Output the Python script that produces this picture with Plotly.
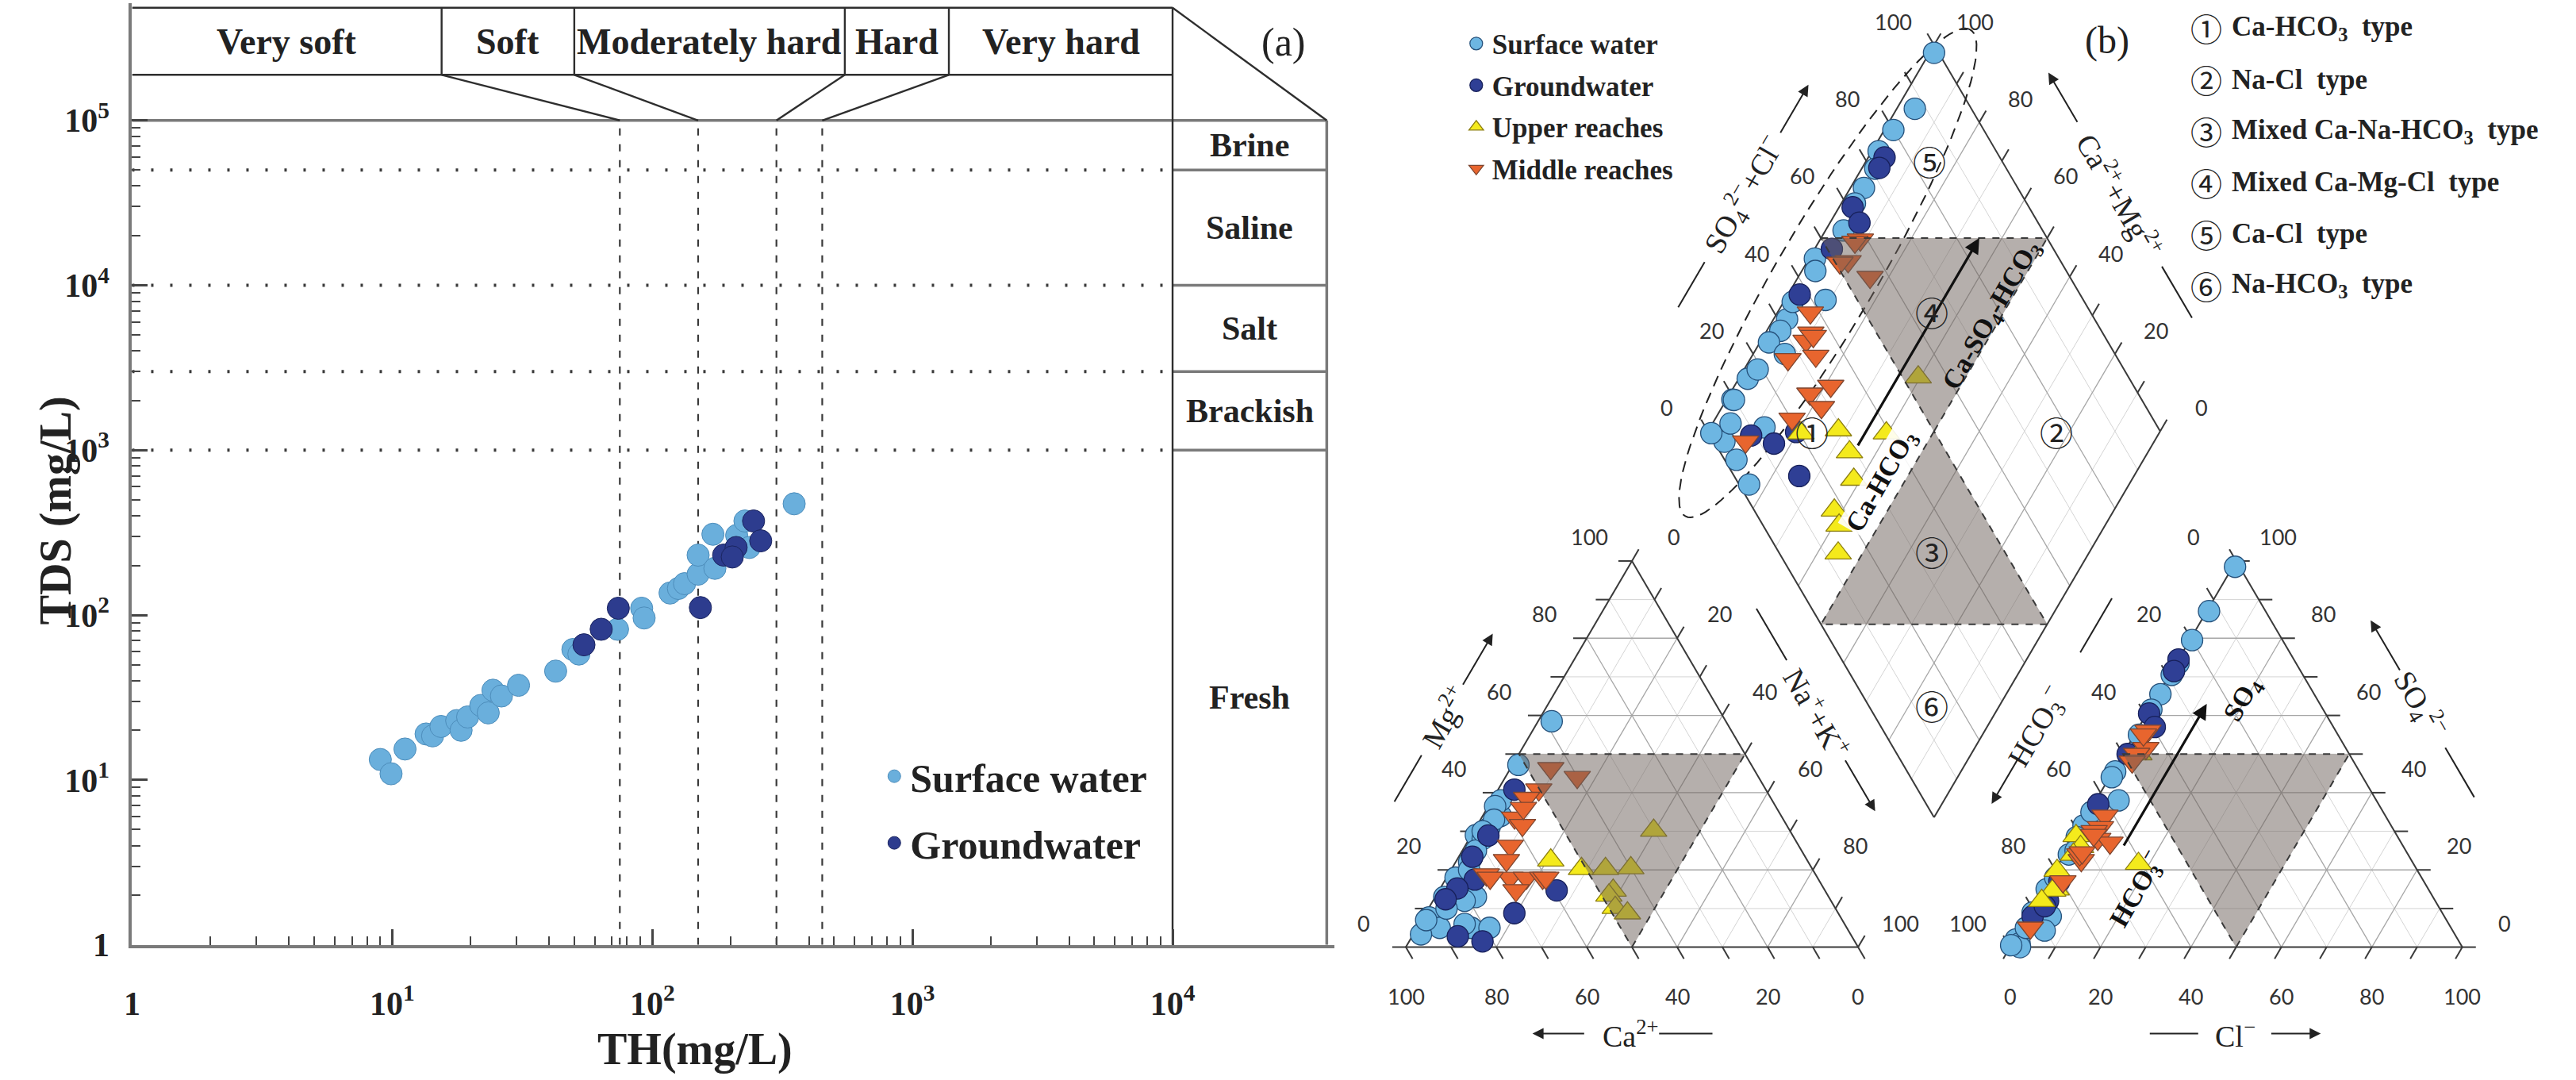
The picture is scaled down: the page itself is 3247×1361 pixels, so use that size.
import math
import plotly.graph_objects as go

W, H = 3247, 1361
SERIF = "Liberation Serif, Times New Roman, serif"
SANS = "Lato, Liberation Sans, sans-serif"
CIRC = "Noto Sans CJK SC, DejaVu Sans, sans-serif"

# ------------------------------------------------------------------ data (a)
sw_th = [9.0, 9.9, 11.2, 13.5, 14.3, 15.4, 17.7, 18.4, 19.5, 21.9, 23.4, 24.4, 26.3, 30.6,
         42.5, 49.5, 52.2, 73.5, 91, 93, 117, 126, 133, 150, 150, 171, 174, 211, 227, 236, 351]
sw_tds = [13.3, 10.9, 15.4, 19.0, 18.5, 21.1, 22.9, 20.0, 24.1, 28.3, 25.5, 35, 32.3, 37.5,
          45.7, 61.8, 58, 82, 110, 96, 136, 145, 155, 177, 231, 309, 192, 304, 372, 257, 473]
gw_th = [54.6, 63.6, 74, 153, 188, 210, 245, 261, 203]
gw_tds = [66, 82, 110, 111, 231, 257, 372, 282, 225]

hardness_bounds = [75, 150, 300, 450]
hardness_names = ["Very soft", "Soft", "Moderately hard", "Hard", "Very hard"]
tds_bounds = [1000, 3000, 10000, 50000]
tds_names = ["Fresh", "Brackish", "Salt", "Saline", "Brine"]
th_tick_vals = [1, 10, 100, 1000, 10000]
th_tick_text = ["<b>1</b>", "<b>10<sup>1</sup></b>", "<b>10<sup>2</sup></b>", "<b>10<sup>3</sup></b>",
                "<b>10<sup>4</sup></b>"]
tds_tick_vals = [1, 10, 100, 1000, 10000, 100000]
tds_tick_text = ["<b>1</b>", "<b>10<sup>1</sup></b>", "<b>10<sup>2</sup></b>", "<b>10<sup>3</sup></b>",
                 "<b>10<sup>4</sup></b>", "<b>10<sup>5</sup></b>"]

# ------------------------------------------------------------------ data (b)  (meq %)
sw_ca = [70, 62, 60, 62, 74, 66, 38.5, 51.5, 64, 78, 75, 69, 80, 81, 85, 91, 83, 90, 84, 79, 95, 92, 86, 72, 68, 76]
sw_mg = [29, 34, 38, 36.5, 23, 31, 58.5, 47.2, 33, 13, 22, 28, 18, 12, 13, 7.7, 5, 5, 6, 5, 3.3, 7, 10, 25, 30, 20]
sw_so4 = [98.5, 87, 79.5, 73.5, 70.5, 65.5, 61.5, 45.5, 44, 38, 31.5, 28.5, 24, 25, 15, 9, 8, 2, 1, 0, 4.3, 0.5, 5, 18, 35, 55]
sw_cl = [0.5, 0.5, 0.5, 0.5, 0.5, 0.5, 0.5, 0.5, 0.5, 5, 0.5, 0.5, 1, 2, 0.6, 0.5, 5, 0.3, 1.6, 2.2, 5.5, 0, 1, 1, 0.5, 1]

gw_ca = [55.6, 67.3, 73.6, 76, 81, 85, 71.6, 59.3, 87.1, 82.3]
gw_mg = [40.8, 28.9, 23.4, 17.5, 15.2, 12.4, 8.8, 14.7, 2.8, 1.5]
gw_so4 = [74.5, 71.5, 60.5, 57, 50, 37, 17, 12, 8, 10.6]
gw_cl = [0, 0.5, 0.5, 3.5, 1, 1, 2.4, 2.4, 1, 2.4]

up_ca = [30.1, 40, 51, 45.7, 46.8, 48.4, 48.6, 56.7, 46.6]
up_mg = [30.2, 20.5, 20.3, 20.3, 14.7, 13.4, 10.2, 22.5, 8.8]
up_so4 = [21.6, 50, 28.8, 26, 24, 15, 14.7, 19.8, 12]
up_cl = [17.6, 3.5, 0.2, 2.6, 2, 2.7, 2.1, 0.5, 1]

md_ca = [44.8, 40.1, 50.2, 54, 59.2, 58.4, 63.8, 66.5, 72.8, 68, 64.4, 60.8, 60.1, 68.3, 72.4, 56]
md_mg = [46.3, 44, 40.8, 38.6, 33.5, 31.6, 26.2, 22.5, 18.8, 17.9, 17.9, 17.9, 17.9, 14.7, 17.9, 36]
md_so4 = [56, 51.5, 50, 48, 34, 31, 28, 27, 22.5, 30, 24, 29, 24.5, 17, 5, 55]
md_cl = [2.5, 4.3, 3, 3, 4, 4.5, 5.4, 8.6, 4.5, 3.6, 3.4, 4, 3.7, 3.2, 2, 2]

piper_tick_vals = [0, 20, 40, 60, 80, 100]
type_marks = ["\u2460", "\u2461", "\u2462", "\u2463", "\u2464", "\u2465"]
type_labels = ["Ca-HCO<sub>3</sub>\u00a0 type", "Na-Cl\u00a0 type", "Mixed Ca-Na-HCO<sub>3</sub>\u00a0 type",
               "Mixed Ca-Mg-Cl\u00a0 type", "Ca-Cl\u00a0 type", "Na-HCO<sub>3</sub>\u00a0 type"]
# (SO4+Cl, Ca+Mg) position of each type mark inside the diamond
type_pos_ac = [(23, 77), (77, 23), (34, 35), (65, 66), (84, 86), (14, 15)]

# ------------------------------------------------------------------ helpers
def px_x(px):
    return px / W


def px_y(py):
    return 1 - py / H


def seg_trace(segs, color, width, dash="solid", xa="x", ya="y"):
    xs, ys = [], []
    for (x0, y0), (x1, y1) in segs:
        xs += [x0, x1, None]
        ys += [y0, y1, None]
    return go.Scatter(x=xs, y=ys, mode="lines", line=dict(color=color, width=width, dash=dash),
                      hoverinfo="skip", showlegend=False, xaxis=xa, yaxis=ya)


fig = go.Figure()
ann = []
shapes = []


def arrow_ann(tail, head, width, size, color):
    ann.append(dict(x=head[0], y=head[1], ax=tail[0], ay=tail[1], xref="x2", yref="y2",
                    axref="x2", ayref="y2", text="", showarrow=True, arrowhead=2, arrowsize=size,
                    arrowwidth=width, arrowcolor=color))


# ================================================================== panel (a)
A_X0, A_XDEC = 156, 329.0
A_Y0, A_YDEC = 1212, 211.5
A_RIGHT, A_TOP, A_HDR = 1667, 10, 96
lx_max = (A_RIGHT - A_X0) / A_XDEC
ly_top = (A_Y0 - A_TOP) / A_YDEC
ly_hdr = (A_Y0 - A_HDR) / A_YDEC
ly_max = 5.0
hdr_cols = [0.0, 1.19, 1.70, 2.74, 3.14, 4.0]
lx_bar = 4.0
pad = 0.03
xr_a = [0, lx_max + pad]
yr_a = [0, ly_top + pad]
x_dom_a = [A_X0 / W, (A_X0 + xr_a[1] * A_XDEC) / W]
y_dom_a = [(H - A_Y0) / H, (H - (A_Y0 - yr_a[1] * A_YDEC)) / H]


def P(lx, ly):
    return (10 ** lx, 10 ** ly)


dark = [(P(0, ly_top), P(lx_bar, ly_top)),
        (P(lx_bar, ly_top), P(lx_max, ly_max)),
        (P(0, ly_hdr), P(lx_bar, ly_hdr)),
        (P(lx_bar, ly_top), P(lx_bar, 0))]
for c in hdr_cols[1:-1]:
    dark.append((P(c, ly_top), P(c, ly_hdr)))
for c, b in zip(hdr_cols[1:-1], hardness_bounds):
    dark.append((P(c, ly_hdr), P(math.log10(b), ly_max)))
grey = [(P(0, ly_max), P(lx_max, ly_max)), (P(lx_max, ly_max), P(lx_max, 0))]
for b in tds_bounds:
    grey.append((P(lx_bar, math.log10(b)), P(lx_max, math.log10(b))))
dots = [(P(0, math.log10(b)), P(lx_bar, math.log10(b))) for b in tds_bounds]
dashes = [(P(math.log10(h), 0), P(math.log10(h), ly_max)) for h in hardness_bounds]

fig.add_trace(seg_trace(dots, "#3a3a3a", 4, "3px,21px"))
fig.add_trace(seg_trace(dashes, "#3a3a3a", 2.2, "9px,11px"))
fig.add_trace(seg_trace(grey, "#7a7a7a", 3.5))
fig.add_trace(seg_trace(dark, "#2e2e2e", 2.4))

fig.add_trace(go.Scatter(x=sw_th, y=sw_tds, mode="markers", name="<b>Surface water</b>",
                         legend="legend", legendgroup="a_sw",
                         marker=dict(size=28, color="#6AAFDC", line=dict(color="#4D8DBB", width=1)),
                         xaxis="x", yaxis="y"))
fig.add_trace(go.Scatter(x=gw_th, y=gw_tds, mode="markers", name="<b>Groundwater</b>",
                         legend="legend", legendgroup="a_gw",
                         marker=dict(size=28, color="#2D3C8E", line=dict(color="#1B2560", width=1)),
                         xaxis="x", yaxis="y"))

# header labels
for i, name in enumerate(hardness_names):
    cx = (hdr_cols[i] + hdr_cols[i + 1]) / 2
    ann.append(dict(x=cx, y=(ly_top + ly_hdr) / 2, xref="x", yref="y", text="<b>%s</b>" % name,
                    showarrow=False, font=dict(family=SERIF, size=46, color="#222")))
tds_edges = [0] + [math.log10(b) for b in tds_bounds] + [ly_max]
for i, name in enumerate(tds_names):
    cy = (tds_edges[i] + tds_edges[i + 1]) / 2
    ann.append(dict(x=(lx_bar + lx_max) / 2, y=cy, xref="x", yref="y", text="<b>%s</b>" % name,
                    showarrow=False, font=dict(family=SERIF, size=42, color="#222")))
ann.append(dict(x=(1612 - A_X0) / A_XDEC, y=(A_Y0 - 54) / A_YDEC, xref="x", yref="y", text="(a)",
                showarrow=False, font=dict(family=SERIF, size=50, color="#222")))
ann.append(dict(x=px_x(868), y=px_y(1346), xref="paper", yref="paper", text="<b>TH(mg/L)</b>",
                xanchor="center", yanchor="middle",
                showarrow=False, font=dict(family=SERIF, size=56, color="#222")))
ann.append(dict(x=px_x(60), y=px_y(655), xref="paper", yref="paper", text="<b>TDS (mg/L)</b>",
                xanchor="center", yanchor="middle",
                textangle=-90, showarrow=False, font=dict(family=SERIF, size=56, color="#222")))

# ================================================================== panel (b)
B_PX0, B_PY0, B_SC, B_LEFT = 1767, 1215, 5.72, 1680
SQ = math.sqrt(3) / 2
GAP = 33.6


def cat_xy(ca, mg):
    na = 100 - ca - mg
    return (na + mg / 2, mg * SQ)


def an_xy(so4, cl):
    return (100 + GAP + cl + so4 / 2, so4 * SQ)


DBX, DBY = 100 + GAP / 2, GAP * SQ


def dia_xy(a, c):
    return (DBX + 0.5 * (a - c), DBY + SQ * (a + c))


minor_segs, major_segs, tick_segs = [], [], []
for k in range(10, 100, 10):
    tgt = major_segs if k % 20 == 0 else minor_segs
    tgt += [(cat_xy(100 - k, k), cat_xy(0, k)), (cat_xy(100 - k, 0), cat_xy(0, 100 - k)),
            (cat_xy(k, 0), cat_xy(k, 100 - k)),
            (an_xy(k, 0), an_xy(k, 100 - k)), (an_xy(0, k), an_xy(100 - k, k)),
            (an_xy(0, 100 - k), an_xy(100 - k, 0)),
            (dia_xy(k, 0), dia_xy(k, 100)), (dia_xy(0, k), dia_xy(100, k))]
T = 3
for k in range(0, 101, 10):
    tick_segs += [(cat_xy(100 - k, k), cat_xy(100 - k + T, k)),
                  (cat_xy(k, 0), cat_xy(k, -T)),
                  (cat_xy(0, 100 - k), cat_xy(-T, 100 - k + T)),
                  (an_xy(100 - k, 0), an_xy(100 - k + T, -T)),
                  (an_xy(0, k), an_xy(-T, k)),
                  (an_xy(k, 100 - k), an_xy(k, 100 - k + T)),
                  (dia_xy(k, 100), dia_xy(k, 100 + T)),
                  (dia_xy(100, k), dia_xy(100 + T, k))]


def poly(pts):
    return [(pts[i], pts[(i + 1) % len(pts)]) for i in range(len(pts))]


edge_segs = (poly([cat_xy(100, 0), cat_xy(0, 0), cat_xy(0, 100)]) +
             poly([an_xy(0, 0), an_xy(0, 100), an_xy(100, 0)]) +
             poly([dia_xy(0, 0), dia_xy(100, 0), dia_xy(100, 100), dia_xy(0, 100)]))

fig.add_trace(seg_trace(minor_segs, "#d4d4d4", 1, xa="x2", ya="y2"))
fig.add_trace(seg_trace(major_segs, "#a6a6a6", 1.3, xa="x2", ya="y2"))
fig.add_trace(seg_trace(edge_segs + tick_segs, "#3a3a3a", 2, xa="x2", ya="y2"))

# dashed ellipse around surface-water cluster
ecx, ecy = dia_xy(47, 94)
ex, ey = [], []
for i in range(121):
    t = 2 * math.pi * i / 120
    a_, b_ = 63 * math.cos(t), 11 * math.sin(t)
    ex.append(ecx + a_ * 0.5 - b_ * SQ)
    ey.append(ecy + a_ * SQ + b_ * 0.5)
fig.add_trace(go.Scatter(x=ex, y=ey, mode="lines", line=dict(color="#222", width=2, dash="14px,9px"),
                         hoverinfo="skip", showlegend=False, xaxis="x2", yaxis="y2"))


def piper_points(ca, mg, so4, cl):
    xs, ys = [], []
    for c, m in zip(ca, mg):
        x, y = cat_xy(c, m)
        xs.append(x); ys.append(y)
    for s, l in zip(so4, cl):
        x, y = an_xy(s, l)
        xs.append(x); ys.append(y)
    for c, m, s, l in zip(ca, mg, so4, cl):
        x, y = dia_xy(s + l, c + m)
        xs.append(x); ys.append(y)
    return xs, ys


series_b = [
    ("Surface water", sw_ca, sw_mg, sw_so4, sw_cl, "circle", 27, "#6DB6E2", "#25507A"),
    ("Groundwater", gw_ca, gw_mg, gw_so4, gw_cl, "circle", 27, "#2F3F95", "#17205A"),
    ("Upper reaches", up_ca, up_mg, up_so4, up_cl, "triangle-up", 29, "#F4EA1C", "#8C7E10"),
    ("Middle reaches", md_ca, md_mg, md_so4, md_cl, "triangle-down", 29, "#E8652E", "#7E4630"),
]
for name, ca, mg, so4, cl, sym, sz, col, lc in series_b:
    xs, ys = piper_points(ca, mg, so4, cl)
    fig.add_trace(go.Scatter(x=xs, y=ys, mode="markers", name="<b>%s</b>" % name,
                             legend="legend2", legendgroup="b_" + name,
                             marker=dict(symbol=sym, size=sz, color=col, line=dict(color=lc, width=1.3)),
                             xaxis="x2", yaxis="y2"))

# grey "no dominant type" regions drawn over the points
GREY_FILL = "rgba(108,96,90,0.5)"


def tri_path(pts):
    return "M %.3f %.3f L %.3f %.3f L %.3f %.3f Z" % (pts[0][0], pts[0][1], pts[1][0], pts[1][1],
                                                      pts[2][0], pts[2][1])


for tri in ([cat_xy(50, 50), cat_xy(0, 50), cat_xy(50, 0)],
            [an_xy(50, 0), an_xy(50, 50), an_xy(0, 50)],
            [dia_xy(50, 100), dia_xy(100, 50), dia_xy(50, 50)],
            [dia_xy(50, 50), dia_xy(0, 50), dia_xy(50, 0)]):
    shapes.append(dict(type="path", path=tri_path(tri), xref="x2", yref="y2", fillcolor=GREY_FILL,
                       line=dict(color="#3a3a3a", width=2, dash="dash"), layer="above"))

# edge tick labels
NL, NR, ND = (-SQ, 0.5), (SQ, 0.5), (0, -1)


def lab(pt, n, d, text):
    ann.append(dict(x=pt[0] + n[0] * d, y=pt[1] + n[1] * d, xref="x2", yref="y2", text=str(text),
                    showarrow=False, font=dict(family=SANS, size=27, color="#333")))


for k in piper_tick_vals:
    lab(cat_xy(100 - k, k), NL, 10.8, k)
    lab(cat_xy(0, 100 - k), NR, 10.8, k)
    lab(cat_xy(k, 0), ND, 11, k)
    lab(an_xy(100 - k, 0), NL, 10.8, k)
    lab(an_xy(k, 100 - k), NR, 10.8, k)
    lab(an_xy(0, k), ND, 11, k)
    lab(dia_xy(k, 100), NL, 10.5, k)
    lab(dia_xy(100, k), NR, 10.5, k)

plain_segs = []


def side_title(p0, p1, nrm, d, s_text, text, angle, plain, arrow):
    ux, uy = p1[0] - p0[0], p1[1] - p0[1]
    L = math.hypot(ux, uy)
    ux, uy = ux / L, uy / L
    mx, my = (p0[0] + p1[0]) / 2, (p0[1] + p1[1]) / 2

    def at(s):
        return (mx + ux * s + nrm[0] * d, my + uy * s + nrm[1] * d)

    c = at(s_text)
    ann.append(dict(x=c[0], y=c[1], xref="x2", yref="y2", text=text, textangle=angle, showarrow=False,
                    font=dict(family=SERIF, size=38, color="#222")))
    plain_segs.append((at(plain[0]), at(plain[1])))
    arrow_ann(at(arrow[0]), at(arrow[1]), 2, 1.4, "#222")


side_title(cat_xy(100, 0), cat_xy(0, 100), NL, 18.5, -1, "Mg<sup>2+</sup>", -60, (-23, -11), (7, 20.5))
side_title(cat_xy(0, 100), cat_xy(0, 0), NR, 18.5, 0, "Na<sup>+</sup>+K<sup>+</sup>", 60, (-27, -13.6), (12, 25.5))
side_title(cat_xy(100, 0), cat_xy(0, 0), ND, 19.4, -0.2, "Ca<sup>2+</sup>", 0, (6, 17.8), (-10.3, -22))
side_title(an_xy(0, 0), an_xy(100, 0), NL, 19.6, -4, "HCO<sub>3</sub><sup>\u2212</sup>", -60, (15, 29), (-12.4, -24.2))
side_title(an_xy(100, 0), an_xy(0, 100), NR, 19.1, -1.8, "SO<sub>4</sub><sup>2\u2212</sup>", 60, (9.4, 22.2), (-10.4, -23.6))
side_title(an_xy(0, 0), an_xy(0, 100), ND, 19.4, -0.2, "Cl<sup>\u2212</sup>", 0, (-19.1, -8.4), (7.5, 18.7))
side_title(dia_xy(0, 100), dia_xy(100, 100), NL, 19.6, 0, "SO<sub>4</sub><sup>2\u2212</sup>+Cl<sup>\u2212</sup>", -60,
           (-29.2, -17.5), (15.7, 28.4))
side_title(dia_xy(100, 100), dia_xy(100, 0), NR, 18.8, -0.4, "Ca<sup>2+</sup>+Mg<sup>2+</sup>", 60,
           (18.2, 31.5), (-18.9, -32))
fig.add_trace(seg_trace(plain_segs, "#222", 2, xa="x2", ya="y2"))

# evolution arrows and their labels
arrow_ann(dia_xy(31, 65), dia_xy(85, 65), 3.2, 1.2, "#111")
arrow_ann(an_xy(26, 12), an_xy(63, 12), 3.2, 1.2, "#111")

for pos, text, bg in ((dia_xy(78, 52), "<b>Ca-SO<sub>4</sub>-HCO<sub>3</sub></b>", None),
                      (dia_xy(32, 55), "<b>Ca-HCO<sub>3</sub></b>", "rgba(255,255,255,0.9)"),
                      (an_xy(15, 20.5), "<b>HCO<sub>3</sub><sup>\u2212</sup></b>", None),
                      (an_xy(64, 19.6), "<b>SO<sub>4</sub></b>", None)):
    d = dict(x=pos[0], y=pos[1], xref="x2", yref="y2", text=text, textangle=-60, showarrow=False,
             font=dict(family=SERIF, size=34, color="#111"))
    if bg:
        d["bgcolor"] = bg
    ann.append(d)

# circled type numbers inside the diamond
for mark, (a, c) in zip(type_marks, type_pos_ac):
    x, y = dia_xy(a, c)
    ann.append(dict(x=x, y=y, xref="x2", yref="y2", text=mark, showarrow=False,
                    font=dict(family=CIRC, size=42, color="#222")))

# type list (top right) and panel tag
for i, (mark, lbl) in enumerate(zip(type_marks, type_labels)):
    yy = px_y(36 + i * 66)
    ann.append(dict(x=px_x(2779), y=yy, xref="paper", yref="paper", text=mark, showarrow=False,
                    xanchor="center", yanchor="middle",
                    font=dict(family=CIRC, size=40, color="#222")))
    ann.append(dict(x=px_x(2810), y=yy, xref="paper", yref="paper", text="<b>%s</b>" % lbl,
                    xanchor="left", yanchor="middle", showarrow=False,
                    font=dict(family=SERIF, size=35, color="#222")))
ann.append(dict(x=px_x(2654), y=px_y(52), xref="paper", yref="paper", text="(b)", showarrow=False,
                xanchor="center", yanchor="middle",
                font=dict(family=SERIF, size=48, color="#222")))

# ================================================================== layout
fig.update_layout(
    width=W, height=H, margin=dict(l=0, r=0, t=0, b=0),
    paper_bgcolor="white", plot_bgcolor="rgba(0,0,0,0)",
    xaxis=dict(type="log", domain=x_dom_a, range=xr_a, anchor="y",
               showgrid=False, zeroline=False, showline=True, linecolor="#7a7a7a", linewidth=4,
               tickmode="array", tickvals=th_tick_vals, ticktext=th_tick_text,
               ticks="inside", ticklen=20, tickwidth=2.5, tickcolor="#444", ticklabelstandoff=34,
               tickfont=dict(family=SERIF, size=42, color="#222"),
               minor=dict(tickmode="array",
                          tickvals=[m * 10 ** e for e in range(0, 4) for m in range(2, 10)],
                          ticks="inside", ticklen=11, tickwidth=2, tickcolor="#444", showgrid=False)),
    yaxis=dict(type="log", domain=y_dom_a, range=yr_a, anchor="x",
               showgrid=False, zeroline=False, showline=True, linecolor="#7a7a7a", linewidth=4,
               tickmode="array", tickvals=tds_tick_vals, ticktext=tds_tick_text,
               ticks="inside", ticklen=20, tickwidth=2.5, tickcolor="#444", ticklabelstandoff=16,
               tickfont=dict(family=SERIF, size=42, color="#222"),
               minor=dict(tickmode="array",
                          tickvals=[m * 10 ** e for e in range(0, 5) for m in range(2, 10)],
                          ticks="inside", ticklen=11, tickwidth=2, tickcolor="#444", showgrid=False)),
    xaxis2=dict(domain=[B_LEFT / W, 1], range=[(B_LEFT - B_PX0) / B_SC, (W - B_PX0) / B_SC],
                anchor="y2", visible=False),
    yaxis2=dict(domain=[0, 1], range=[(B_PY0 - H) / B_SC, B_PY0 / B_SC], anchor="x2", visible=False),
    legend=dict(x=px_x(1100), y=px_y(956), xanchor="left", yanchor="top", bgcolor="rgba(0,0,0,0)",
                font=dict(family=SERIF, size=50, color="#222"), tracegroupgap=16, itemsizing="trace"),
    legend2=dict(x=px_x(1836), y=px_y(26), xanchor="left", yanchor="top", bgcolor="rgba(0,0,0,0)",
                 font=dict(family=SERIF, size=35, color="#222"), tracegroupgap=4, itemsizing="trace"),
    annotations=ann, shapes=shapes,
)

fig.write_html("out.html", config={"displayModeBar": False},
               post_script="document.body.style.margin='0';document.body.style.overflow='hidden';")
